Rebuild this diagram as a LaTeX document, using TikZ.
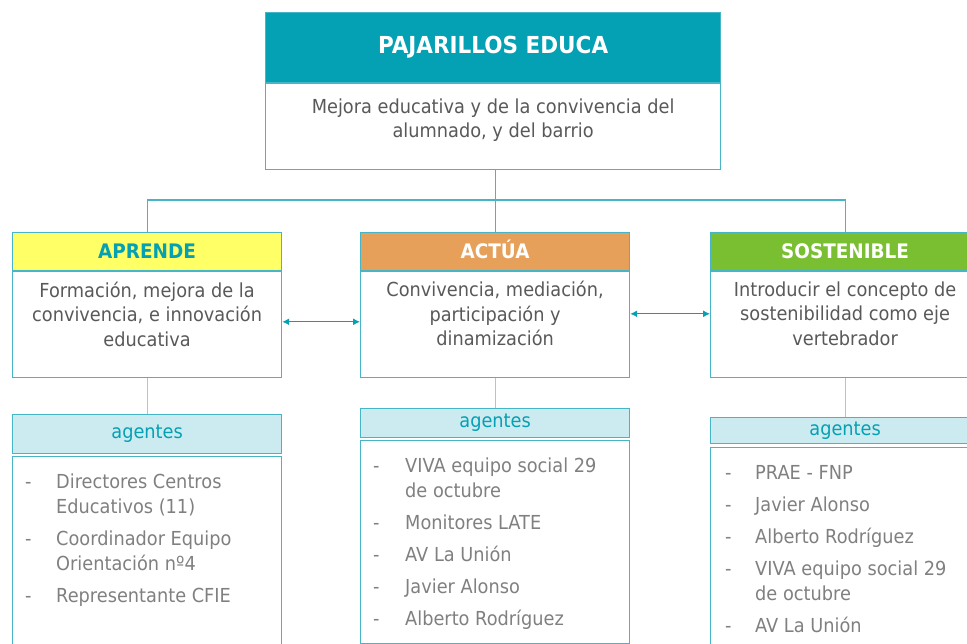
\documentclass[tikz,border=0pt]{standalone}
\usepackage{fontspec}
\setmainfont{DejaVu Sans}[FakeStretch=0.92]
\usepackage{tikz}
\usetikzlibrary{
  arrows.meta,
  positioning
}
\definecolor{PajTeal}{RGB}{4, 160, 180}
\definecolor{PajBorder}{RGB}{70, 182, 198}
\definecolor{PajYellow}{RGB}{255, 255, 102}
\definecolor{PajOrange}{RGB}{230, 160, 90}
\definecolor{PajGreen}{RGB}{122, 190, 50}
\definecolor{PajCyan}{RGB}{204, 235, 240}
\definecolor{PajText}{RGB}{89, 89, 89}
\definecolor{PajList}{RGB}{128, 128, 128}
\definecolor{PajStem}{RGB}{200, 192, 182}
\tikzset{
    titlebox/.style={rectangle, draw=PajBorder, fill=PajTeal, line width=1.2pt, inner sep=0pt,
        minimum width=455pt, minimum height=70pt, anchor=north west, text=white,
        font=\fontsize{23.4}{28}\selectfont\bfseries},
    headbox/.style={rectangle, draw=PajBorder, line width=1.2pt, inner sep=0pt,
        minimum width=269pt, minimum height=38pt, anchor=north west,
        text height=14.6pt, text depth=0pt,
        font=\fontsize{20}{24}\selectfont\bfseries},
    bodybox/.style={rectangle, draw=PajBorder, fill=white, line width=1.2pt, inner sep=0pt,
        minimum width=#1, minimum height=106pt},
    bodybox/.default=269pt,
    bodytext/.style={align=center, text=PajText, inner sep=0pt,
        font=\fontsize{19.3}{24.5}\selectfont},
    agentbox/.style={rectangle, draw=PajBorder, fill=PajCyan, line width=1.2pt, inner sep=0pt,
        minimum width=269pt, anchor=north west, text=PajTeal,
        font=\fontsize{19.3}{24}\selectfont},
    listbox/.style={rectangle, draw=PajBorder, fill=white, line width=1.2pt, inner sep=0pt,
        minimum width=269pt, anchor=north west},
    listtext/.style={anchor=north west, inner sep=0pt, text=PajList, align=left,
        font=\fontsize{19.3}{25}\selectfont},
    tree/.style={draw=PajBorder, line width=1.2pt},
    stem/.style={draw=PajStem, line width=1.2pt},
    link/.style={draw=PajTeal, line width=1.2pt,
        {Latex[length=7pt,width=7pt]}-{Latex[length=7pt,width=7pt]}}
}

\begin{document}
\begin{tikzpicture}[x=1pt, y=-1pt]
    \clip (0,0) rectangle (967,644);
    \fill[white] (0,0) rectangle (967,644);

    % cabecera
    \node[titlebox] (titulo) at (265,12) {PAJARILLOS EDUCA};
    \node[bodybox=455pt, minimum height=86pt, below=0pt of titulo] (lema) {};
    \node[bodytext, yshift=6.5pt] (lemaTxt) at (lema.center) {Mejora educativa y de la convivencia del\\alumnado, y del barrio};

    % tres ejes
    \node[headbox, fill=PajYellow, text=PajTeal] (aprende) at (12,232) {APRENDE};
    \node[headbox, fill=PajOrange, text=white] (actua) at (360,232) {ACTÚA};
    \node[headbox, fill=PajGreen, text=white] (sostenible) at (710,232) {SOSTENIBLE};

    \node[bodybox, below=0pt of aprende] (aprendeBody) {};
    \node[bodybox, below=0pt of actua] (actuaBody) {};
    \node[bodybox, below=0pt of sostenible] (sostenibleBody) {};

    \node[bodytext, yshift=10.5pt] (aprendeTxt) at (aprendeBody.center) {Formación, mejora de la\\convivencia, e innovación\\educativa};
    \node[bodytext, yshift=11pt] (actuaTxt) at (actuaBody.center) {Convivencia, mediación,\\participación y\\dinamización};
    \node[bodytext, yshift=11pt] (sostenibleTxt) at (sostenibleBody.center) {Introducir el concepto de\\sostenibilidad como eje\\vertebrador};

    % agentes
    \node[agentbox, minimum height=39pt] (agAprende) at (12,414) {agentes};
    \node[agentbox, minimum height=29pt] (agActua) at (360,408) {agentes};
    \node[agentbox, minimum height=26pt] (agSostenible) at (710,417) {agentes};

    \node[listbox, minimum height=210pt] (lsAprende) at (12,456) {};
    \node[listbox, minimum height=203pt] (lsActua) at (360,440) {};
    \node[listbox, minimum height=210pt] (lsSostenible) at (710,447) {};

    \node[listtext] (txAprende) at ([xshift=13pt, yshift=-14.5pt]lsAprende.north west) {%
        \begin{tabular}{@{}p{31pt}@{}l@{}}
        - & Directores Centros \\
          & Educativos (11) \\[7pt]
        - & Coordinador Equipo \\
          & Orientación nº4 \\[7pt]
        - & Representante CFIE \\
        \end{tabular}};
    \node[listtext] (txActua) at ([xshift=13pt, yshift=-14.5pt]lsActua.north west) {%
        \begin{tabular}{@{}p{32pt}@{}l@{}}
        - & VIVA equipo social 29 \\
          & de octubre \\[7pt]
        - & Monitores LATE \\[7pt]
        - & AV La Unión \\[7pt]
        - & Javier Alonso \\[7pt]
        - & Alberto Rodríguez \\
        \end{tabular}};
    \node[listtext] (txSostenible) at ([xshift=15pt, yshift=-14.5pt]lsSostenible.north west) {%
        \begin{tabular}{@{}p{30pt}@{}l@{}}
        - & PRAE - FNP \\[7pt]
        - & Javier Alonso \\[7pt]
        - & Alberto Rodríguez \\[7pt]
        - & VIVA equipo social 29 \\
          & de octubre \\[7pt]
        - & AV La Unión \\
        \end{tabular}};

    % conectores
    \draw[tree] (actua.north |- lema.south) -- (actua.north);
    \draw[tree] (aprende.north) -- ++(0,-32) -| (sostenible.north);
    \draw[stem] (aprendeBody.south) -- (agAprende.north);
    \draw[stem] (actuaBody.south) -- (agActua.north);
    \draw[stem] (sostenibleBody.south) -- (agSostenible.north);
    \draw[link] ([yshift=3pt]aprendeBody.east) -- ([yshift=3pt]actuaBody.west);
    \draw[link] ([yshift=11pt]actuaBody.east) -- ([yshift=11pt]sostenibleBody.west);
\end{tikzpicture}
\end{document}
